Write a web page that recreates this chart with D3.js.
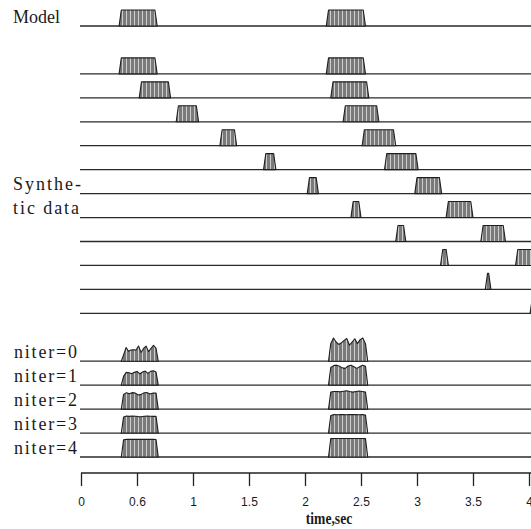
<!DOCTYPE html>
<html>
<head>
<meta charset="utf-8">
<script src="https://cdn.jsdelivr.net/npm/d3@7"></script>
<style>
  html, body { margin: 0; padding: 0; background: #fff; }
  svg { display: block; }
</style>
</head>
<body>
<svg id="chart" width="531" height="529"></svg>
<script>
// ---------------- data ----------------
// pulse intervals [start, end] in seconds
const modelPulses = [[0.34, 0.68], [2.19, 2.54]];

const synthPulseA = [
  [0.34, 0.68], [0.52, 0.80], [0.85, 1.05], [1.24, 1.39], [1.63, 1.74],
  [2.02, 2.12], [2.41, 2.50], [2.81, 2.90], [3.21, 3.28], [3.61, 3.66], [4.01, 4.06]
];
const synthPulseB = [
  [2.19, 2.54], [2.23, 2.57], [2.34, 2.66], [2.51, 2.81], [2.71, 3.01],
  [2.98, 3.22], [3.26, 3.50], [3.57, 3.79], [3.88, 4.10], null, null
];

const niterLabels = ["niter=0", "niter=1", "niter=2", "niter=3", "niter=4"];
const niterSpan1 = [0.36, 0.69];
const niterSpan2 = [2.21, 2.56];
// top amplitudes across each pulse (1 = model pulse height)
const niterTop1 = [
  [0.40, 0.85, 0.62, 0.70, 0.72, 0.70, 0.95, 0.55, 0.80, 0.95, 0.60, 0.80, 1.00, 0.80],
  [0.55, 0.80, 0.78, 0.72, 0.80, 0.86, 0.70, 0.82, 0.88, 0.74, 0.86, 0.90, 0.82],
  [0.92, 1.02, 0.96, 1.03, 1.00, 0.88, 0.92, 1.02, 1.03, 0.95, 1.01, 1.00],
  [1.00, 1.06, 1.04, 1.07, 1.05, 1.03, 1.02, 1.05, 1.07, 1.05, 1.04, 1.05],
  [1.08, 1.10, 1.10, 1.10, 1.10, 1.10, 1.10, 1.10, 1.10, 1.10, 1.10, 1.09]
];
const niterTop2 = [
  [1.10, 1.45, 1.20, 1.05, 1.15, 1.30, 1.42, 1.00, 1.20, 1.40, 1.10, 1.35, 1.45, 1.10],
  [1.10, 1.22, 1.25, 1.18, 1.08, 1.05, 1.20, 1.25, 1.15, 1.05, 1.15, 1.25, 1.18],
  [1.06, 1.10, 1.10, 1.08, 1.12, 1.15, 1.10, 1.06, 1.10, 1.13, 1.10, 1.06],
  [1.10, 1.15, 1.14, 1.15, 1.16, 1.14, 1.15, 1.16, 1.15, 1.14, 1.15, 1.12],
  [1.15, 1.16, 1.16, 1.16, 1.16, 1.16, 1.16, 1.16, 1.16, 1.16, 1.15]
];

const tickValues = [0, 0.5, 1, 1.5, 2, 2.5, 3, 3.5, 4];
const tickLabels = ["0", "0.6", "1", "1.5", "2", "2.5", "3", "3.5", "4"];
const xTitle = "time,sec";

// ---------------- drawing ----------------
const svg = d3.select("#chart");
const W = 531;
const x = d3.scaleLinear().domain([0, 4]).range([81, 529]);
const row = d3.scaleLinear().domain([0, 18]).range([26, 457]);
const amp = d3.scaleLinear().domain([0, 1]).range([0, 16]);
const RAMP = 0.02;

const defs = svg.append("defs");
const pat = defs.append("pattern").attr("id", "hatch")
  .attr("patternUnits", "userSpaceOnUse").attr("width", 4).attr("height", 8);
pat.append("rect").attr("width", 4).attr("height", 8).attr("fill", "#7a7a7a");
pat.append("rect").attr("x", 2).attr("width", 1).attr("height", 8).attr("fill", "#cdcdcd");
defs.append("clipPath").attr("id", "clip")
  .append("rect").attr("x", 0).attr("y", 0).attr("width", W).attr("height", 529);

const g = svg.append("g").attr("clip-path", "url(#clip)");
const line = d3.line().x(d => d[0]).y(d => d[1]);

function drawTrace(rowIdx, pulses) {
  const y0 = row(rowIdx);
  g.append("line").attr("x1", 80).attr("x2", W).attr("y1", y0).attr("y2", y0)
    .attr("stroke", "#2a2a2a").attr("stroke-width", 1.3);
  pulses.forEach(p => {
    if (!p) return;
    const t0 = p.span[0], t1 = p.span[1], tops = p.tops;
    const pts = [[x(t0), y0]];
    const n = tops.length;
    tops.forEach((a, i) => {
      const t = (t0 + RAMP) + (n === 1 ? 0 : i * ((t1 - t0 - 2 * RAMP) / (n - 1)));
      pts.push([x(t), y0 - amp(a)]);
    });
    pts.push([x(t1), y0]);
    g.append("path").attr("d", line(pts) + "Z")
      .attr("fill", "url(#hatch)").attr("stroke", "#1e1e1e")
      .attr("stroke-width", 1.1).attr("stroke-linejoin", "round");
  });
}

const flat = s => s ? { span: s, tops: [1, 1] } : null;

// Model
drawTrace(0, modelPulses.map(flat));
// Synthetic data
synthPulseA.forEach((a, i) => drawTrace(2 + i, [flat(a), flat(synthPulseB[i])]));
// niter traces
niterLabels.forEach((lab, i) => drawTrace(14 + i, [
  { span: niterSpan1, tops: niterTop1[i] },
  { span: niterSpan2, tops: niterTop2[i] }
]));

// labels
const serif = "'Liberation Serif', 'DejaVu Serif', serif";
function label(txt, xx, yy, len) {
  svg.append("text").attr("x", xx).attr("y", yy).text(txt)
    .attr("font-family", serif).attr("font-size", 18).attr("fill", "#1a1a1a")
    .attr("textLength", len).attr("lengthAdjust", "spacing");
}
label("Model", 13, 22.5, 47);
label("Synthe-", 13, 190, 68);
label("tic data", 13, 213.5, 66);
niterLabels.forEach((lab, i) => label(lab, 14, row(14 + i) - 3, 63));

// axis
const axisY = 473;
const axis = d3.axisBottom(x).tickValues(tickValues)
  .tickFormat((d, i) => tickLabels[i]).tickSize(13).tickSizeOuter(0).tickPadding(11);
const ax = svg.append("g").attr("transform", `translate(0,${axisY})`).call(axis);
ax.select(".domain").attr("d", `M81,0H${W}`).attr("stroke", "#222").attr("stroke-width", 1.3);
ax.selectAll(".tick line").attr("stroke", "#222").attr("stroke-width", 1.3);
ax.selectAll(".tick text").attr("fill", "#1a1a1a")
  .attr("font-family", "'Liberation Sans Narrow', 'Liberation Sans', sans-serif")
  .attr("font-size", 12).attr("transform", "scale(0.85,1)")
  .attr("x", function() { return 0; });
// keep labels centred on ticks after horizontal condensing
ax.selectAll(".tick text").attr("transform", null)
  .attr("textLength", (d, i) => tickLabels[i].length > 1 ? tickLabels[i].length * 5.6 : null);

svg.append("g").attr("transform", "translate(329,524) scale(0.8,1)")
  .append("text").attr("x", 0).attr("y", 0).attr("text-anchor", "middle")
  .attr("font-family", "'Liberation Serif', 'DejaVu Serif', serif")
  .attr("font-weight", "bold")
  .attr("font-size", 17).attr("fill", "#1a1a1a").text(xTitle);
</script>
</body>
</html>
